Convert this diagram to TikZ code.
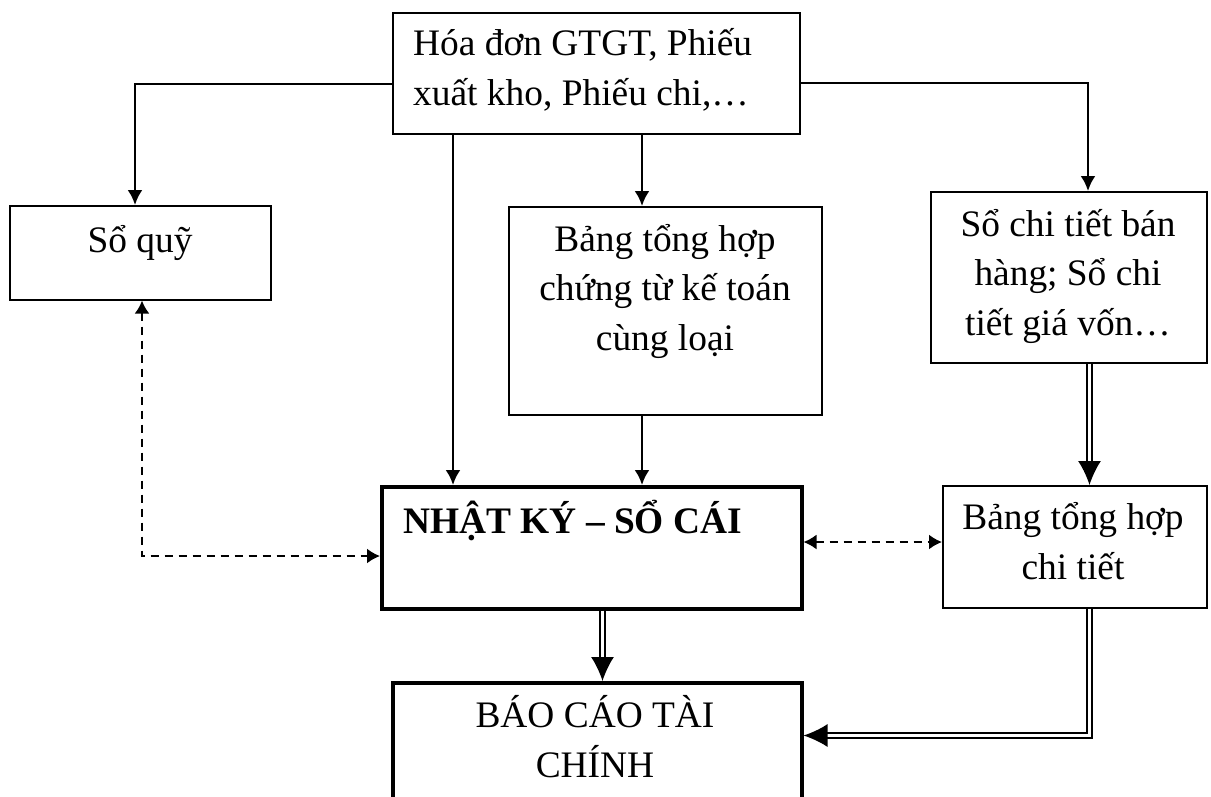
\documentclass[tikz,border=0pt]{standalone}
\usepackage{fontspec}
\setmainfont{Liberation Serif}
\usetikzlibrary{arrows.meta}
\begin{document}
\begin{tikzpicture}[x=1pt,y=-1pt,
  box/.style={draw, line width=1.6pt, inner sep=0pt, anchor=north west},
  thickbox/.style={box, line width=3.5pt},
  txt/.style={inner sep=0pt, anchor=base, align=center, font=\fontsize{37.4}{49.5}\selectfont},
  flow/.style={line width=2.5pt, -{Latex[length=15pt,width=15pt]}},
  dflow/.style={double, double distance=3pt, line width=1.6pt, -{Latex[length=24pt,width=23pt]}},
  dashlink/.style={line width=2pt, dash pattern=on 8pt off 6pt,
    {Latex[length=13pt,width=15pt]}-{Latex[length=13pt,width=15pt]}}]
\useasboundingbox (0,0) rectangle (1211,796);
\fill[white] (0,0) rectangle (1211,796);
\clip (0,0) rectangle (1211,796);

% boxes
\node[box, minimum width=407pt, minimum height=121pt] (top) at (392,12) {};
\node[box, minimum width=261pt, minimum height=94pt] (quy) at (9,205) {};
\node[box, minimum width=313pt, minimum height=208pt] (bth) at (508,206) {};
\node[box, minimum width=276pt, minimum height=171pt] (sct) at (930,191) {};
\node[thickbox, minimum width=420pt, minimum height=122pt] (nk) at (380,485) {};
\node[box, minimum width=264pt, minimum height=122pt] (btct) at (942,485) {};
\node[thickbox, minimum width=409pt, minimum height=125pt] (bc) at (391,681) {};

% texts (multi-line nodes are placed by the baseline of their last line)
\node[txt, anchor=base west, align=left] (top-t) at (413,105) {Hóa đơn GTGT, Phiếu\\xuất kho, Phiếu chi,…};
\node[txt] (quy-t) at (140,252) {Sổ quỹ};
\node[txt] (bth-t) at (665,350) {Bảng tổng hợp\\chứng từ kế toán\\cùng loại};
\node[txt] (sct-t) at (1068,335) {Sổ chi tiết bán\\hàng; Sổ chi\\tiết giá vốn…};
\node[txt, anchor=base west, font=\fontsize{37.4}{49.5}\selectfont\bfseries] (nk-t) at (403,533) {NHẬT KÝ – SỔ CÁI};
\node[txt] (btct-t) at (1073,579) {Bảng tổng hợp\\chi tiết};
\node[txt] (bc-t) at (595,777) {BÁO CÁO TÀI\\CHÍNH};

% single arrows
\draw[flow] (top.west |- 0,84) -| (quy.north -| 135,0);
\draw[flow] (top.east |- 0,83) -| (sct.north -| 1088,0);
\draw[flow] (top.south -| 453,0) -- (nk.north -| 453,0);
\draw[flow] (top.south -| 642,0) -- (bth.north -| 642,0);
\draw[flow] (bth.south -| 642,0) -- (nk.north -| 642,0);

% dashed two-way links
\draw[dashlink] (quy.south -| 142,0) |- (nk.west |- 0,556);
\draw[dashlink] (nk.east |- 0,542) -- (btct.west |- 0,542);

% double-line arrows
\draw[dflow] (sct.south -| 1089.5,0) -- (btct.north -| 1089.5,0);
\draw[dflow] (nk.south -| 602.5,0) -- (bc.north -| 602.5,0);
\draw[dflow] (btct.south -| 1089.5,0) |- (bc.east |- 0,735.5);
\end{tikzpicture}
\end{document}
